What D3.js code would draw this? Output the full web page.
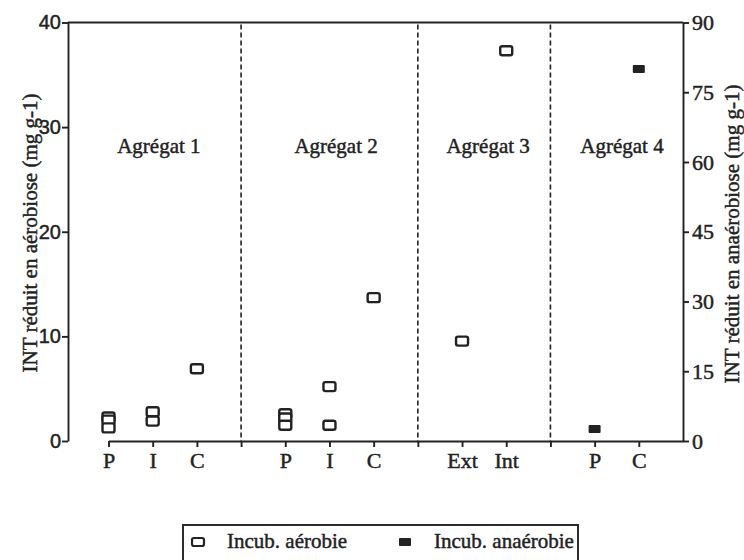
<!DOCTYPE html>
<html>
<head>
<meta charset="utf-8">
<script src="https://cdn.jsdelivr.net/npm/d3@7"></script>
<style>
  body { margin: 0; background: #fff; }
  text { font-family: "Liberation Serif", "Times New Roman", serif; fill: #222; stroke: #222; stroke-width: 0.45px; }
</style>
</head>
<body>
<div id="chart"></div>
<script>
// categories on the bottom axis, one per tick 1..13 ("" = divider tick)
const categories = ["P", "I", "C", "", "P", "I", "C", "", "Ext", "Int", "", "P", "C"];
const aggregates = ["Agrégat 1", "Agrégat 2", "Agrégat 3", "Agrégat 4"];
const aggregatePos = [2.14, 6.15, 9.59, 12.62];
const dividers = [4, 8, 11];

// incubation aérobie (left axis)
const aerobieIdx = [1, 1, 1, 2, 2, 3, 5, 5, 5, 6, 6, 7, 9, 10];
const aerobieVal = [2.3, 2.0, 1.25, 2.8, 1.9, 6.9, 2.6, 2.2, 1.5, 5.2, 1.5, 13.7, 9.55, 37.3];

// incubation anaérobie (right axis)
const anaerobieIdx = [12, 13];
const anaerobieVal = [2.6, 80];

const leftTicks = [0, 10, 20, 30, 40];
const rightTicks = [0, 15, 30, 45, 60, 75, 90];
const legendLabels = ["Incub. aérobie", "Incub. anaérobie"];

const W = 744, H = 560;
const margin = { top: 22.5, right: 61, bottom: 119, left: 68 };
const width = W - margin.left - margin.right;
const height = H - margin.top - margin.bottom;
const ink = "#222";

const svg = d3.select("#chart").append("svg")
  .attr("width", W).attr("height", H)
  .style("background", "#fff");

const g = svg.append("g").attr("transform", `translate(${margin.left},${margin.top})`);

const x = d3.scaleLinear().domain([1, 14]).range([40.5, width]);
const yL = d3.scaleLinear().domain([0, 40]).range([height, 0]);
const yR = d3.scaleLinear().domain([0, 90]).range([height, 0]);

function styleAxis(sel, font, size) {
  sel.selectAll("path, line").attr("stroke", ink).attr("stroke-width", 1.9);
  sel.selectAll("text").style("font-family", font).style("font-size", size + "px").attr("fill", ink);
}

// left axis
g.append("g")
  .call(d3.axisLeft(yL).tickValues(leftTicks).tickSize(6).tickSizeOuter(0).tickPadding(1))
  .call(styleAxis, '"Liberation Sans", Arial, sans-serif', 20);

// right axis
g.append("g")
  .attr("transform", `translate(${width},0)`)
  .call(d3.axisRight(yR).tickValues(rightTicks).tickSize(6).tickSizeOuter(0).tickPadding(3))
  .call(styleAxis, '"Liberation Serif", serif', 22);

// bottom axis
g.append("g")
  .attr("transform", `translate(0,${height})`)
  .call(d3.axisBottom(x).tickValues(d3.range(1, 14)).tickFormat((i) => categories[i - 1])
    .tickSize(6).tickSizeOuter(0).tickPadding(5))
  .call(styleAxis, '"Liberation Serif", serif', 22);

// top frame line
g.append("line")
  .attr("x1", 0).attr("x2", width).attr("y1", 0).attr("y2", 0)
  .attr("stroke", ink).attr("stroke-width", 1.9);

// dashed dividers
g.selectAll(".divider")
  .data(dividers)
  .enter()
  .append("line")
  .attr("class", "divider")
  .attr("x1", (d) => x(d)).attr("x2", (d) => x(d))
  .attr("y1", 2).attr("y2", height)
  .attr("stroke", ink).attr("stroke-width", 1.6)
  .attr("stroke-dasharray", "5,3");

// aggregate labels
g.selectAll(".agg")
  .data(aggregates)
  .enter()
  .append("text")
  .attr("class", "agg")
  .attr("x", (d, i) => x(aggregatePos[i]))
  .attr("y", 130.5)
  .attr("text-anchor", "middle")
  .style("font-size", "21px")
  .text((d) => d);

// markers
const aerobie = aerobieIdx.map((idx, i) => ({ idx, v: aerobieVal[i] }));
const anaerobie = anaerobieIdx.map((idx, i) => ({ idx, v: anaerobieVal[i] }));

g.selectAll(".aer")
  .data(aerobie)
  .enter()
  .append("rect")
  .attr("class", "aer")
  .attr("x", (d) => x(d.idx) - 6)
  .attr("y", (d) => yL(d.v) - 4.5)
  .attr("width", 12).attr("height", 9).attr("rx", 2)
  .attr("fill", "#fff").attr("stroke", ink).attr("stroke-width", 2.4);

g.selectAll(".ana")
  .data(anaerobie)
  .enter()
  .append("rect")
  .attr("class", "ana")
  .attr("x", (d) => x(d.idx) - 6)
  .attr("y", (d) => yR(d.v) - 4)
  .attr("width", 12).attr("height", 8).attr("rx", 1)
  .attr("fill", ink);

// axis titles
svg.append("text")
  .attr("transform", `translate(37,233) rotate(-90)`)
  .attr("text-anchor", "middle")
  .style("font-size", "21px")
  .text("INT réduit en aérobiose (mg g-1)");

svg.append("text")
  .attr("transform", `translate(739,234) rotate(-90)`)
  .attr("text-anchor", "middle")
  .style("font-size", "21px")
  .text("INT réduit en anaérobiose (mg g-1)");

// legend
const legend = svg.append("g").attr("transform", "translate(183,525)");
legend.append("rect")
  .attr("x", 0).attr("y", 0).attr("width", 395).attr("height", 45)
  .attr("fill", "none").attr("stroke", ink).attr("stroke-width", 1.9);

const items = legend.selectAll(".item")
  .data(legendLabels)
  .enter()
  .append("g")
  .attr("class", "item")
  .attr("transform", (d, i) => `translate(${15 + i * 207},17)`);

items.append("rect")
  .attr("x", -6).attr("y", -4)
  .attr("width", 12).attr("height", 8).attr("rx", (d, i) => (i === 0 ? 2 : 1))
  .attr("fill", (d, i) => (i === 0 ? "#fff" : ink))
  .attr("stroke", (d, i) => (i === 0 ? ink : "none"))
  .attr("stroke-width", 2.2);

items.append("text")
  .attr("x", 29)
  .attr("y", 6)
  .style("font-size", "21px")
  .text((d) => d);
</script>
</body>
</html>
